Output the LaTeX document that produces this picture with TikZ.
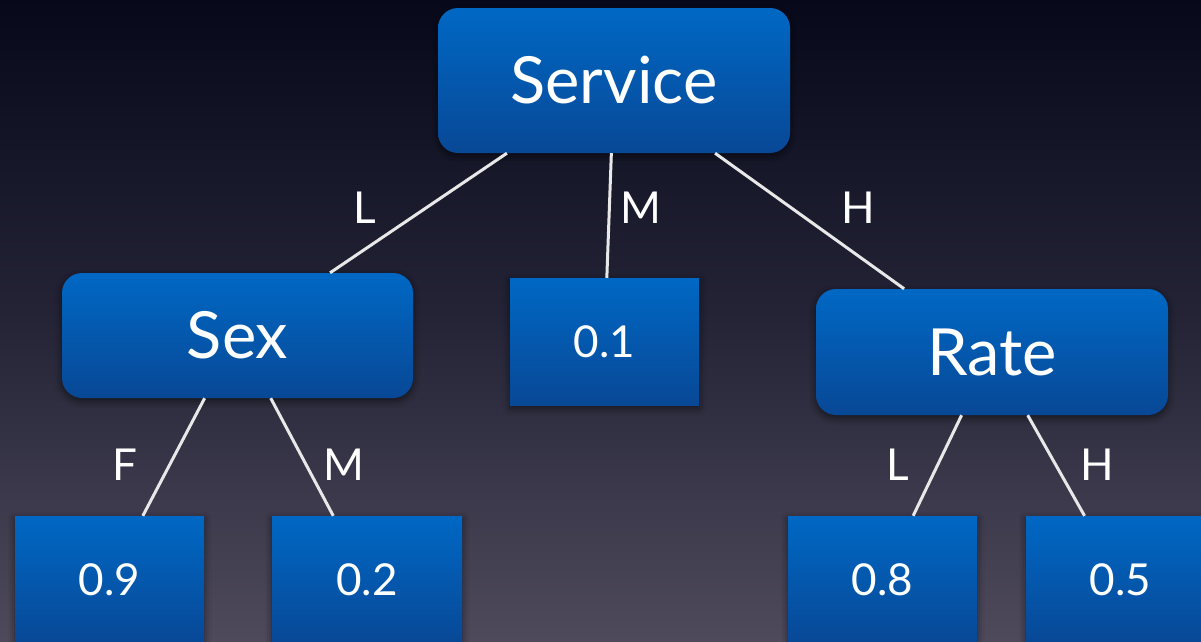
\documentclass[tikz,border=0pt]{standalone}
\usepackage{fontspec}
\setmainfont{Lato}
\usetikzlibrary{shadows.blur}

\definecolor{bgtop}{RGB}{7,9,26}
\definecolor{bgmid}{RGB}{36,36,54}
\definecolor{bgbot}{RGB}{78,74,92}
\definecolor{boxtop}{RGB}{0,104,196}
\definecolor{boxbot}{RGB}{8,72,150}
\definecolor{wire}{RGB}{232,232,232}

\tikzset{
  boxbase/.style={
    inner sep=0pt, text=white,
    top color=boxtop, bottom color=boxbot, draw=none,
    blur shadow={shadow xshift=0pt, shadow yshift=-3pt,
                 shadow blur radius=7pt, shadow opacity=55}
  },
  attr/.style={boxbase, rounded corners=20pt,
    font=\fontsize{65}{78}\selectfont},
  leaf/.style={boxbase, minimum width=189pt, minimum height=127pt,
    font=\fontsize{44}{52}\selectfont},
  branch/.style={line width=3pt, draw=wire},
  lbl/.style={text=white, inner sep=0pt,
    font=\fontsize{44}{52}\selectfont}
}

\begin{document}
\begin{tikzpicture}[x=1pt,y=-1pt]
  \useasboundingbox (0,0) rectangle (1201,641);
  % backdrop
  \shade[top color=bgtop, bottom color=bgmid] (0,0) rectangle (1201,321);
  \shade[top color=bgmid, bottom color=bgbot] (0,320) rectangle (1201,641);

  % decision nodes
  \node[attr, minimum width=352pt, minimum height=145pt] (service) at (614,80.5) {Service};
  \node[attr, minimum width=351pt, minimum height=125pt] (sex) at (237.5,335.5) {Sex};
  \node[attr, minimum width=352pt, minimum height=126pt] (rate) at (992,352) {Rate};

  % leaves
  \node[leaf] (pm) at (604.5,341.5) {0.1};
  \node[leaf] (pf9) at (109.5,579.5) {0.9};
  \node[leaf, minimum width=190pt] (pm2) at (367,579.5) {0.2};
  \node[leaf] (pl8) at (882.5,579.5) {0.8};
  \node[leaf] (ph5) at (1120.5,579.5) {0.5};

  % branches
  \draw[branch] (service) -- (sex);
  \draw[branch] (service) -- (pm);
  \draw[branch] (service) -- (rate);
  \draw[branch] (sex) -- (pf9);
  \draw[branch] (sex) -- (pm2);
  \draw[branch] (rate) -- (pl8);
  \draw[branch] (rate) -- (ph5);

  % branch labels
  \node[lbl] (lsl) at (365,208) {L};
  \node[lbl] (lsm) at (641,208) {M};
  \node[lbl] (lsh) at (858,208) {H};
  \node[lbl] (lxf) at (125,465) {F};
  \node[lbl] (lxm) at (344,465) {M};
  \node[lbl] (lrl) at (898,465) {L};
  \node[lbl] (lrh) at (1097,465) {H};
\end{tikzpicture}
\end{document}
